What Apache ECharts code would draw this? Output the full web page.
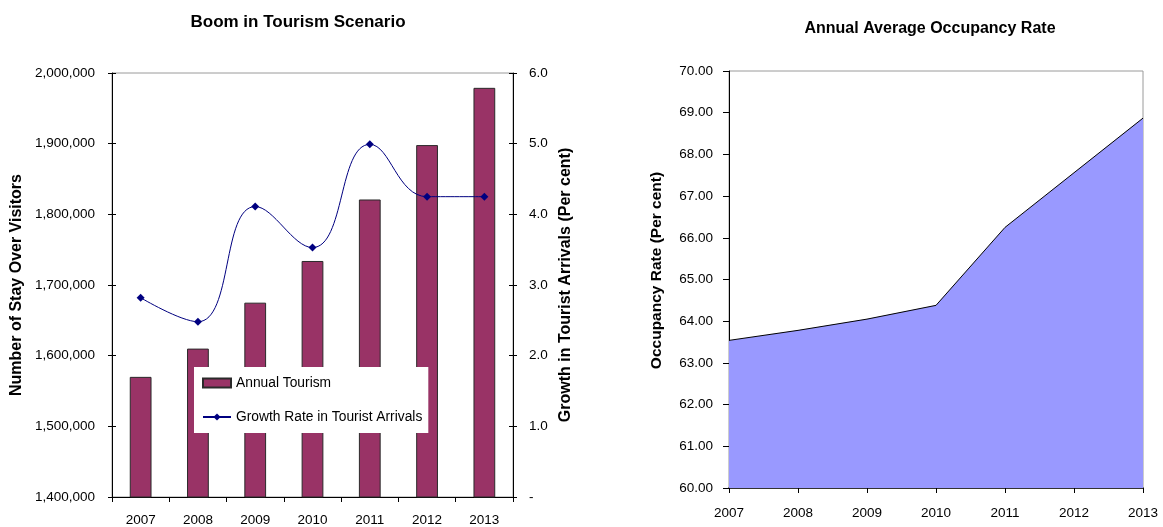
<!DOCTYPE html>
<html>
<head>
<meta charset="utf-8">
<script src="https://cdn.jsdelivr.net/npm/echarts@6/dist/echarts.min.js"></script>
<style>
  html, body { margin: 0; padding: 0; background: #fff; }
  #chart { width: 1163px; height: 527px; }
</style>
</head>
<body>
<div id="chart"></div>
<script>
// Years shared by both panels
const years = ['2007', '2008', '2009', '2010', '2011', '2012', '2013'];

// Boom in Tourism Scenario
const annualTourism = [1570000, 1610000, 1675000, 1734000, 1821000, 1898000, 1979000];
const growthRate = [2.82, 2.48, 4.11, 3.53, 4.99, 4.25, 4.25];

// Annual Average Occupancy Rate
const occupancyRate = [63.54, 63.78, 64.05, 64.38, 66.25, 67.56, 68.87];

const FONT = '"Liberation Sans", Arial, sans-serif';
const labelStyle = { color: '#000', fontFamily: FONT, fontSize: 13.5 };
const nameStyle = { color: '#000', fontFamily: FONT, fontSize: 16, fontWeight: 'bold' };

// Invisible twin axis that only draws inward ticks, so ticks cross the axis line
function innerTicks(gridIndex, position, min, max, interval) {
  return {
    type: 'value', gridIndex, position, min, max, interval,
    axisLine: { show: false },
    axisLabel: { show: false },
    splitLine: { show: false },
    axisTick: { show: true, inside: true, length: 4, lineStyle: { color: '#000' } }
  };
}

const chart = echarts.init(document.getElementById('chart'), null, { renderer: 'canvas' });

chart.setOption({
  backgroundColor: '#fff',
  animation: false,
  title: [
    {
      text: 'Boom in Tourism Scenario',
      left: 293, top: 9, textAlign: 'center',
      textStyle: { fontFamily: FONT, fontSize: 17, fontWeight: 'bold', color: '#000' }
    },
    {
      text: 'Annual Average Occupancy Rate',
      left: 925, top: 16, textAlign: 'center',
      textStyle: { fontFamily: FONT, fontSize: 16, fontWeight: 'bold', color: '#000' }
    }
  ],
  legend: {
    left: 194, top: 367,
    orient: 'vertical',
    backgroundColor: '#fff',
    padding: [9, 6, 9, 8],
    itemGap: 20,
    itemWidth: 28, itemHeight: 9,
    textStyle: { fontFamily: FONT, fontSize: 13.8, color: '#000' },
    data: [
      { name: 'Annual Tourism', icon: 'rect' },
      { name: 'Growth Rate in Tourist Arrivals' }
    ]
  },
  grid: [
    { left: 112, right: 650, top: 73, bottom: 30, show: true, borderColor: '#9a9a9a', borderWidth: 1 },
    { left: 729, right: 20, top: 71, bottom: 39, show: true, borderColor: '#9a9a9a', borderWidth: 1 }
  ],
  xAxis: [
    {
      type: 'category', gridIndex: 0, data: years, boundaryGap: true,
      axisLine: { lineStyle: { color: '#000', width: 1 } },
      axisTick: { show: true, length: 5, lineStyle: { color: '#000' } },
      axisLabel: Object.assign({ margin: 16 }, labelStyle)
    },
    {
      type: 'category', gridIndex: 1, data: years, boundaryGap: false,
      axisLine: { lineStyle: { color: '#000', width: 1.5 } },
      axisTick: { show: true, length: 5, lineStyle: { color: '#000' } },
      axisLabel: Object.assign({ margin: 18 }, labelStyle)
    }
  ],
  yAxis: [
    {
      type: 'value', gridIndex: 0, position: 'left',
      min: 1400000, max: 2000000, interval: 100000,
      name: 'Number of Stay Over Visitors', nameLocation: 'middle', nameGap: 87,
      nameTextStyle: nameStyle,
      axisLine: { show: true, lineStyle: { color: '#000' } },
      axisTick: { show: true, length: 4, lineStyle: { color: '#000' } },
      splitLine: { show: false },
      axisLabel: Object.assign({
        margin: 17,
        formatter: v => v.toLocaleString('en-US')
      }, labelStyle)
    },
    {
      type: 'value', gridIndex: 0, position: 'right',
      min: 0, max: 6, interval: 1,
      name: 'Growth in Tourist Arrivals (Per cent)', nameLocation: 'middle', nameGap: 45, nameRotate: 90,
      nameTextStyle: nameStyle,
      axisLine: { show: true, lineStyle: { color: '#000' } },
      axisTick: { show: true, length: 4, lineStyle: { color: '#000' } },
      splitLine: { show: false },
      axisLabel: Object.assign({
        margin: 16,
        formatter: v => (v === 0 ? '-' : v.toFixed(1))
      }, labelStyle)
    },
    {
      type: 'value', gridIndex: 1,
      min: 60, max: 70, interval: 1,
      name: 'Occupancy Rate (Per cent)', nameLocation: 'middle', nameGap: 64,
      nameTextStyle: Object.assign({}, nameStyle, { fontSize: 15.5, padding: [0, 0, 0, 18] }),
      axisLine: { show: true, lineStyle: { color: '#000' } },
      axisTick: { show: true, length: 6, lineStyle: { color: '#000' } },
      splitLine: { show: false },
      axisLabel: Object.assign({
        margin: 16,
        formatter: v => v.toFixed(2)
      }, labelStyle)
    },
    innerTicks(0, 'left', 1400000, 2000000, 100000),
    innerTicks(0, 'right', 0, 6, 1)
  ],
  series: [
    {
      name: 'Annual Tourism', type: 'bar',
      xAxisIndex: 0, yAxisIndex: 0,
      data: annualTourism,
      barWidth: '38%',
      itemStyle: { color: '#993366', borderColor: '#2a2a2a', borderWidth: 1 }
    },
    {
      name: 'Growth Rate in Tourist Arrivals', type: 'line',
      xAxisIndex: 0, yAxisIndex: 1,
      data: growthRate,
      smooth: 0.45,
      symbol: 'diamond', symbolSize: 8,
      lineStyle: { color: '#000080', width: 1 },
      itemStyle: { color: '#000080' },
      z: 3
    },
    {
      name: 'Occupancy Rate', type: 'line',
      xAxisIndex: 1, yAxisIndex: 2,
      data: occupancyRate,
      symbol: 'none',
      lineStyle: { color: '#000', width: 1 },
      areaStyle: { color: '#9999ff', opacity: 1 }
    }
  ]
});
</script>
</body>
</html>
